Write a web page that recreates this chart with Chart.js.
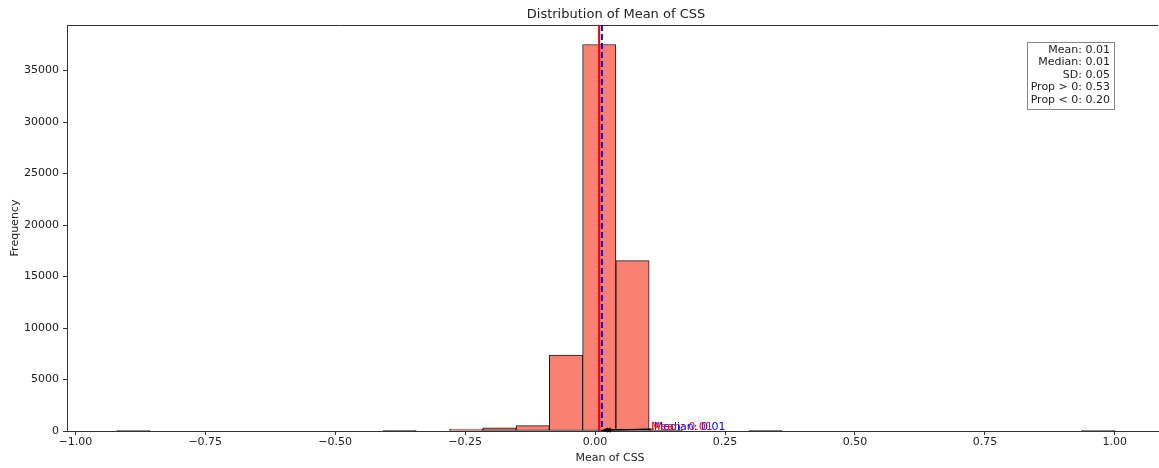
<!DOCTYPE html>
<html>
<head>
<meta charset="utf-8">
<script src="https://cdn.jsdelivr.net/npm/chart.js@4.4.0/dist/chart.umd.min.js"></script>
<style>
  html, body { margin: 0; padding: 0; background: #fff; }
  #chart { display: block; }
</style>
</head>
<body>
<canvas id="chart" width="1159" height="468"></canvas>
<script>
// histogram bins (left edges) and counts
const binStarts = [-0.92, -0.856, -0.792, -0.728, -0.664, -0.6, -0.536, -0.472, -0.408, -0.344,
                   -0.28, -0.216, -0.152, -0.088, -0.024, 0.04, 0.104, 0.168, 0.232, 0.296,
                   0.36, 0.424, 0.488, 0.552, 0.616, 0.68, 0.744, 0.808, 0.872, 0.936];
const binWidth = 0.064;
const counts = [1, 0, 0, 0, 0, 0, 0, 0, 30, 0,
                180, 300, 520, 7380, 37530, 16540, 60, 0, 0, 30,
                0, 0, 0, 0, 0, 0, 0, 0, 0, 1];

const meanValue = 0.0077;
const medianValue = 0.013;
const statLines = ['Mean: 0.01', 'Median: 0.01', 'SD: 0.05', 'Prop > 0: 0.53', 'Prop < 0: 0.20'];

const xTicks = [-1.0, -0.75, -0.5, -0.25, 0.0, 0.25, 0.5, 0.75, 1.0];
const yTicks = [0, 5000, 10000, 15000, 20000, 25000, 30000, 35000];

const FONT = 'DejaVu Sans';
const INK = '#222';
const EDGE = '#1a1a1a';

// extra drawing: spine on top, mean/median lines, annotations, stats box, titles
const overlay = {
    id: 'overlay',
    afterDatasetsDraw(chart) {
        const { ctx, chartArea, scales } = chart;
        const x = scales.x, y = scales.y;
        ctx.save();

        // top spine
        ctx.strokeStyle = '#333';
        ctx.lineWidth = 1;
        ctx.beginPath();
        ctx.moveTo(chartArea.left, chartArea.top + 0.5);
        ctx.lineTo(chartArea.right, chartArea.top + 0.5);
        ctx.stroke();

        // mean (red solid) and median (blue dashed)
        const mx = x.getPixelForValue(meanValue);
        const dx = x.getPixelForValue(medianValue);
        ctx.lineWidth = 2;
        ctx.strokeStyle = '#ff0000';
        ctx.beginPath();
        ctx.moveTo(mx, chartArea.top);
        ctx.lineTo(mx, chartArea.bottom);
        ctx.stroke();
        ctx.strokeStyle = '#0000ff';
        ctx.setLineDash([6, 3]);
        ctx.beginPath();
        ctx.moveTo(dx, chartArea.top);
        ctx.lineTo(dx, chartArea.bottom);
        ctx.stroke();
        ctx.setLineDash([]);

        // annotations with arrows pointing to the baseline
        const notes = [
            { v: medianValue, text: 'Median: 0.01', color: '#0000ff' },
            { v: meanValue, text: 'Mean: 0.01', color: '#ff0000' }
        ];
        ctx.font = '11px ' + FONT;
        ctx.textBaseline = 'middle';
        ctx.textAlign = 'left';
        notes.forEach(n => {
            const tx = x.getPixelForValue(n.v + 0.1);
            const ty = y.getPixelForValue(380);
            const ax = x.getPixelForValue(n.v) + 2;
            const ay = y.getPixelForValue(0);
            ctx.strokeStyle = '#000';
            ctx.fillStyle = '#000';
            ctx.lineWidth = 1;
            ctx.beginPath();
            ctx.moveTo(tx, ty + 2);
            ctx.lineTo(ax + 5, ay - 1);
            ctx.stroke();
            ctx.beginPath();
            ctx.moveTo(ax, ay - 0.5);
            ctx.lineTo(ax + 7, ay - 3.5);
            ctx.lineTo(ax + 7, ay + 1.5);
            ctx.closePath();
            ctx.fill();
            ctx.fillStyle = n.color;
            ctx.fillText(n.text, tx, ty);
        });

        // stats box
        ctx.fillStyle = 'rgba(255,255,255,0.85)';
        ctx.fillRect(1027.5, 42.5, 87, 67);
        ctx.strokeStyle = '#888';
        ctx.lineWidth = 1;
        ctx.strokeRect(1027.5, 42.5, 87, 67);
        ctx.fillStyle = INK;
        ctx.textAlign = 'right';
        statLines.forEach((s, i) => ctx.fillText(s, 1110, 50 + i * 12.5));

        // titles
        ctx.textAlign = 'center';
        ctx.font = '13px ' + FONT;
        ctx.fillText('Distribution of Mean of CSS', 616, 15);
        ctx.font = '11px ' + FONT;
        ctx.fillText('Mean of CSS', 610, 458);
        ctx.translate(15, 228);
        ctx.rotate(-Math.PI / 2);
        ctx.fillText('Frequency', 0, 0);

        ctx.restore();
    }
};

const ctx = document.getElementById('chart').getContext('2d');
new Chart(ctx, {
    type: 'bar',
    data: {
        datasets: [{
            data: binStarts.map((s, i) => ({ x: s + binWidth / 2, y: counts[i] })),
            // very low bars show only their black edge, like in the original
            backgroundColor: c => (c.raw && c.raw.y < 100 ? EDGE : '#FA8072'),
            borderColor: EDGE,
            borderWidth: 1,
            borderSkipped: false,
            barPercentage: 1,
            categoryPercentage: 1
        }]
    },
    options: {
        responsive: false,
        animation: false,
        layout: { padding: { top: 25, right: 1, left: 0, bottom: 0 } },
        plugins: { legend: { display: false }, tooltip: { enabled: false } },
        scales: {
            x: {
                type: 'linear',
                min: -1.016,
                max: 1.083,
                offset: false,
                afterBuildTicks: s => { s.ticks = xTicks.map(v => ({ value: v })); },
                afterFit: s => { s.height = 37; },
                ticks: {
                    font: { family: FONT, size: 11 },
                    color: INK,
                    padding: 1,
                    maxRotation: 0,
                    autoSkip: false,
                    callback: v => (v < 0 ? '\u2212' : '') + Math.abs(v).toFixed(2)
                },
                grid: { drawOnChartArea: false, offset: false, tickLength: 4, color: '#333' },
                border: { color: '#333' }
            },
            y: {
                min: 0,
                max: 39420,
                afterBuildTicks: s => { s.ticks = yTicks.map(v => ({ value: v })); },
                afterFit: s => { s.width = 67; },
                ticks: {
                    font: { family: FONT, size: 11 },
                    color: INK,
                    padding: 4,
                    callback: v => String(v)
                },
                grid: { drawOnChartArea: false, tickLength: 4, color: '#333' },
                border: { color: '#333' }
            }
        }
    },
    plugins: [overlay]
});
</script>
</body>
</html>
